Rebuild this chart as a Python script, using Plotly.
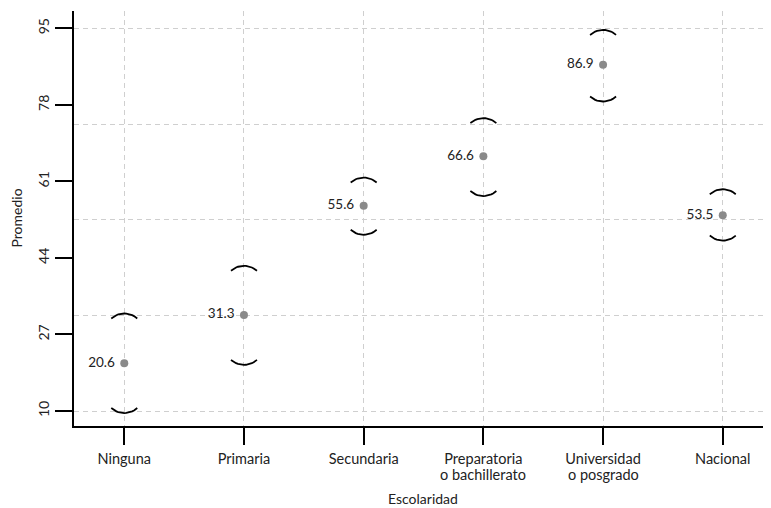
import numpy as np
import plotly.graph_objects as go

# ---- data ----
categories = ["Ninguna", "Primaria", "Secundaria", "Preparatoria<br>o bachillerato",
              "Universidad<br>o posgrado", "Nacional"]
means = [20.6, 31.3, 55.6, 66.6, 86.9, 53.5]
lower = [10.1, 20.8, 49.7, 58.3, 79.3, 48.4]
upper = [31.1, 41.7, 61.3, 74.5, 94.1, 58.7]
point_labels = ["20.6", "31.3", "55.6", "66.6", "86.9", "53.5"]
ytick_vals = [10, 27, 44, 61, 78, 95]
ygrid_vals = [10, 31.25, 52.5, 73.75, 95]

# ---- layout geometry (page body has an 8px margin) ----
OFF = 8
W, H = 771 - OFF, 508 - OFF
ML, MR, MT, MB = 74 - OFF, 0, 11 - OFF, 82
PW, PH = W - ML - MR, H - MT - MB
XR = [0.58, 6.403]
YR = [6.668, 98.85]
xpx = PW / (XR[1] - XR[0])
ypx = PH / (YR[1] - YR[0])

xpos = [i + 1 for i in range(len(categories))]
first_lines = [c.split("<br>")[0] for c in categories]
second_lines = [c.split("<br>")[1] if "<br>" in c else "" for c in categories]

FONT = "Lato"
TXT = "#222222"
FS = 14

# arcs (bracket-like caps) built around each interval end
half_chord, sag = 13.0, 5.0
R = (half_chord ** 2 + sag ** 2) / (2 * sag)
alpha = np.arcsin(half_chord / R)
theta = np.linspace(-alpha, alpha, 15)
dx_px = R * np.sin(theta)
dy_px = R * np.cos(theta) - R * np.cos(alpha)  # 0 at ends, sag at apex

ax, ay = [], []
for x, lo, up in zip(xpos, lower, upper):
    ax += list(x + dx_px / xpx) + [None]
    ay += list(up - sag / 2 / ypx + dy_px / ypx) + [None]
    ax += list(x + dx_px / xpx) + [None]
    ay += list(lo + sag / 2 / ypx - dy_px / ypx) + [None]

fig = go.Figure()
fig.add_trace(go.Scatter(x=ax, y=ay, mode="lines", line=dict(color="black", width=1.8),
                         hoverinfo="skip", showlegend=False))
fig.add_trace(go.Scatter(x=xpos, y=means, mode="markers+text",
                         text=[t + " " for t in point_labels],
                         textposition="middle left",
                         textfont=dict(family=FONT, size=13.5, color=TXT),
                         marker=dict(color="#8a8a8a", size=8),
                         showlegend=False))
fig.add_trace(go.Scatter(x=[xpos[0]], y=[means[0]], yaxis="y2", mode="markers",
                         marker=dict(opacity=0), hoverinfo="skip", showlegend=False))

grid = dict(gridcolor="#cfcfcf", gridwidth=1, griddash="5px,4px")

annotations = [
    dict(text="Escolaridad", xref="paper", yref="paper", x=0.5, y=0,
         xanchor="center", yanchor="middle",
         yshift=-72, showarrow=False, font=dict(size=14, color=TXT)),
    dict(text="Promedio", xref="paper", yref="paper", x=0, y=0.5,
         xanchor="center", yanchor="middle",
         xshift=-58, textangle=-90, showarrow=False, font=dict(size=14, color=TXT)),
]
for x, s in zip(xpos, second_lines):
    if s:
        annotations.append(dict(text=s, xref="x", yref="paper", x=x, y=0,
                                xanchor="center", yanchor="middle", yshift=-48,
                                showarrow=False, font=dict(size=14.5, color=TXT)))

fig.update_layout(
    width=W, height=H,
    margin=dict(l=ML, r=MR, t=MT, b=MB),
    plot_bgcolor="white", paper_bgcolor="white",
    font=dict(family=FONT, size=FS, color=TXT),
    xaxis=dict(range=XR, tickvals=xpos, ticktext=first_lines, showgrid=True, **grid,
               showline=True, linecolor="black", linewidth=2,
               ticks="outside", ticklen=17, tickwidth=2, tickcolor="black",
               ticklabelstandoff=2,
               zeroline=False, tickfont=dict(size=14.5, color=TXT), automargin=False),
    yaxis=dict(range=YR, tickvals=ytick_vals, ticktext=[str(v) for v in ytick_vals],
               showgrid=False, showline=True, linecolor="black", linewidth=2,
               ticks="outside", ticklen=17, tickwidth=2, tickcolor="black",
               zeroline=False, tickangle=-90, tickfont=dict(size=14, color=TXT),
               automargin=False),
    yaxis2=dict(range=YR, overlaying="y", tickvals=ygrid_vals, showticklabels=False,
                ticks="", showgrid=True, **grid, showline=False, zeroline=False,
                automargin=False),
    annotations=annotations,
)

fig.write_html("out.html")
